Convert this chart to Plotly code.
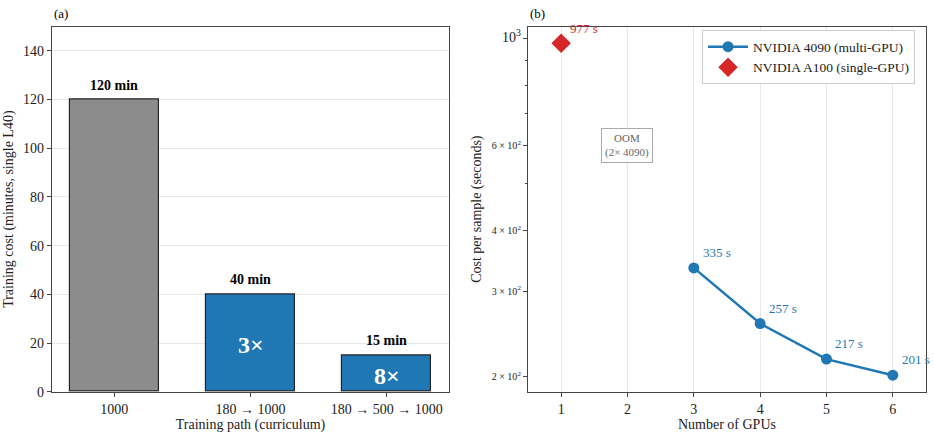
import math
import plotly.graph_objects as go

# ---- data ----
paths = ["1000", "180 \u2192 1000", "180 \u2192 500 \u2192 1000"]
cost_min = [120, 40, 15]
speedup = ["", "3\u00d7", "8\u00d7"]
bar_colors = ["#8c8c8c", "#1f77b4", "#1f77b4"]

gpus_4090 = [3, 4, 5, 6]
cost_4090 = [335, 257, 217, 201]
gpus_a100 = [1]
cost_a100 = [977]

ytick_vals_b = [200, 300, 400, 600, 1000]
ytick_text_b = ["2 \u00d7 10<sup>2</sup>", "3 \u00d7 10<sup>2</sup>",
                "4 \u00d7 10<sup>2</sup>", "6 \u00d7 10<sup>2</sup>",
                "<span style='font-size:14px'>10<sup>3</sup></span>"]
minor_vals_b = [500, 700, 800, 900]

FONT = "Liberation Serif"
AX = "#444444"
GRID = "#e8e8e8"
BLUE = "#1f77b4"
RED = "#d62728"

fig = go.Figure()

fig.add_trace(go.Bar(
    x=list(range(len(paths))), y=cost_min, width=0.65,
    marker=dict(color=bar_colors, line=dict(color="#222222", width=1.2)),
    showlegend=False, xaxis="x", yaxis="y", hoverinfo="skip"))

fig.add_trace(go.Scatter(
    x=gpus_4090, y=cost_4090, mode="lines+markers",
    name="NVIDIA 4090 (multi-GPU)",
    line=dict(color=BLUE, width=2.5), marker=dict(size=11, color=BLUE),
    xaxis="x2", yaxis="y2"))
fig.add_trace(go.Scatter(
    x=gpus_a100, y=cost_a100, mode="markers",
    name="NVIDIA A100 (single-GPU)",
    marker=dict(size=15, color=RED, symbol="diamond"),
    xaxis="x2", yaxis="y2"))

ann = []
for i, (v, s) in enumerate(zip(cost_min, speedup)):
    ann.append(dict(x=i, y=v, xref="x", yref="y", text=f"<b>{v} min</b>",
                    showarrow=False, yanchor="bottom", yshift=5,
                    font=dict(family=FONT, size=14, color="black")))
    if s:
        ann.append(dict(x=i, y=v / 2, xref="x", yref="y", text=f"<b>{s}</b>",
                        showarrow=False, yshift=-2,
                        font=dict(family=FONT, size=24, color="white")))

for x, y in zip(gpus_4090, cost_4090):
    ann.append(dict(x=x, y=math.log10(y), xref="x2", yref="y2", text=f"{y} s", showarrow=False,
                    xanchor="left", yanchor="bottom", xshift=7, yshift=6,
                    font=dict(family=FONT, size=13, color=BLUE)))
for x, y in zip(gpus_a100, cost_a100):
    ann.append(dict(x=x, y=math.log10(y), xref="x2", yref="y2", text=f"{y} s", showarrow=False,
                    xanchor="left", yanchor="bottom", xshift=7, yshift=5,
                    font=dict(family=FONT, size=13, color=RED)))

ann.append(dict(x=2, y=math.log10(600), xref="x2", yref="y2", text="OOM<br>(2\u00d7 4090)",
                showarrow=False, font=dict(family=FONT, size=11, color="#666666"),
                bgcolor="white", bordercolor="#aaaaaa", borderwidth=1, borderpad=3))

ann.append(dict(x=0.0557, y=1, xref="paper", yref="paper", text="(a)", showarrow=False,
                xanchor="left", yanchor="top", yshift=-4,
                font=dict(family=FONT, size=13, color="black")))
ann.append(dict(x=0.5653, y=1, xref="paper", yref="paper", text="(b)", showarrow=False,
                xanchor="left", yanchor="top", yshift=-4,
                font=dict(family=FONT, size=13, color="black")))

shapes = [
    dict(type="line", xref="x2", yref="y2 domain", x0=2, x1=2, y0=0, y1=1,
         line=dict(color="#aaaaaa", width=1, dash="dot"), layer="below"),
    dict(type="line", xref="x2 domain", yref="y2", x0=0, x1=1, y0=3, y1=3,
         line=dict(color=GRID, width=1), layer="below"),
]

axis_common = dict(showline=True, linecolor=AX, linewidth=1.2, mirror=True,
                   ticks="outside", ticklen=4, tickcolor=AX,
                   zeroline=False)
tf = dict(family=FONT, size=14, color="#222222")

fig.update_layout(
    width=934, height=442, margin=dict(l=0, r=0, t=0, b=0),
    paper_bgcolor="white", plot_bgcolor="white",
    font=dict(family=FONT, color="#222222"),
    xaxis=dict(domain=[0.0557, 0.4807], range=[-0.4575, 2.4575],
               tickvals=list(range(len(paths))), ticktext=paths, showgrid=False, tickfont=tf,
               title=dict(text="Training path (curriculum)", font=dict(family=FONT, size=14), standoff=2),
               **axis_common),
    yaxis=dict(domain=[0.0973, 0.9389], range=[0, 150], dtick=20, showgrid=True, gridcolor=GRID, tickfont=tf,
               title=dict(text="Training cost (minutes, single L40)", font=dict(family=FONT, size=14), standoff=6),
               **axis_common),
    xaxis2=dict(domain=[0.5653, 0.9914], range=[0.5, 6.5], tickvals=[1, 2, 3, 4, 5, 6],
                showgrid=True, gridcolor=GRID, anchor="y2", tickfont=tf,
                title=dict(text="Number of GPUs", font=dict(family=FONT, size=14), standoff=2),
                **axis_common),
    yaxis2=dict(domain=[0.0973, 0.9389], type="log", range=[2.2689, 3.0243],
                tickvals=ytick_vals_b, ticktext=ytick_text_b, showgrid=False, anchor="x2",
                tickfont=dict(family=FONT, size=10, color="#222222"),
                minor=dict(tickvals=minor_vals_b, ticks="outside", ticklen=2, tickcolor=AX, showgrid=False),
                title=dict(text="Cost per sample (seconds)", font=dict(family=FONT, size=14), standoff=6),
                **axis_common),
    legend=dict(x=0.9797, xanchor="right", y=0.93, yanchor="top",
                bgcolor="white", bordercolor="#cccccc", borderwidth=1,
                font=dict(family=FONT, size=13.5, color="#222222"),
                tracegroupgap=0, itemwidth=40),
    annotations=ann, shapes=shapes, bargap=0,
)

fig.write_html("out.html")
